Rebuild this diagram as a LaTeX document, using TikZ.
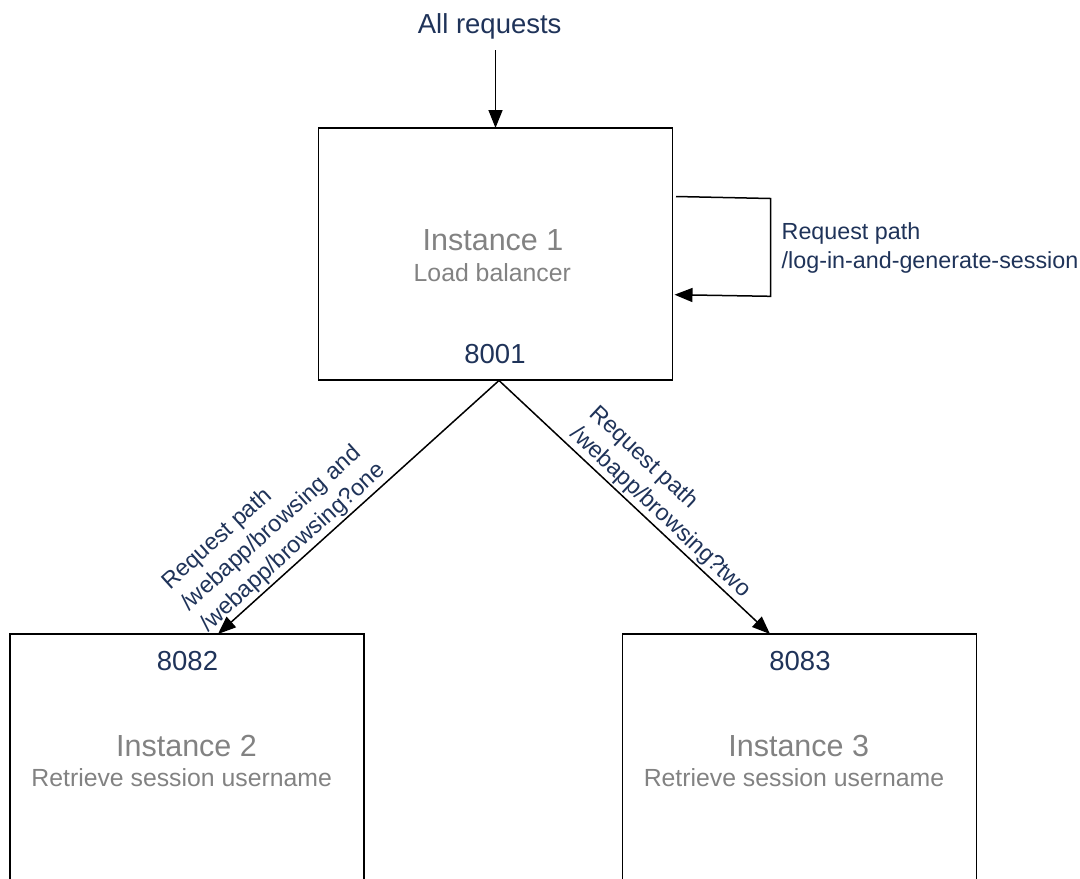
\documentclass[tikz,border=0pt]{standalone}
\usepackage{fontspec}
\setmainfont{Liberation Sans}
\usetikzlibrary{arrows.meta,calc}
\definecolor{navy}{RGB}{31,51,89}
\definecolor{greytxt}{RGB}{130,130,130}
\begin{document}
\begin{tikzpicture}[x=1pt,y=-1pt,
  box/.style={draw=black, line width=1.5pt, minimum width=354pt, minimum height=252pt, anchor=north west, inner sep=0pt, outer sep=0pt},
  conn/.style={line width=1.5pt, -{Triangle[length=18pt,width=14pt]}},
  loopline/.style={line width=1.5pt, -{Triangle[length=18pt,width=14pt]}},
  title/.style={text=greytxt, font=\fontsize{30.5}{34}\selectfont, anchor=base, inner sep=0pt},
  sub/.style={text=greytxt, font=\fontsize{24.8}{28}\selectfont, anchor=base, inner sep=0pt},
  port/.style={text=navy, font=\fontsize{27.5}{32}\selectfont, anchor=base, inner sep=0pt},
  lbl/.style={text=navy, font=\fontsize{23.3}{28.5}\selectfont, align=left, inner sep=2pt},
]
\useasboundingbox (0,0) rectangle (1080,879);
\clip (0,0) rectangle (1080,879);

% boxes
\node[box] (b1) at (318.5,128) {};
\node[box] (b2) at (10,634) {};
\node[box] (b3) at (622.5,634) {};

% box texts
\node[title] (t1) at (493,250) {Instance 1};
\node[sub] (s1) at (492.3,281.5) {Load balancer};
\node[port] (p1) at (495,363) {8001};

\node[port] (p2) at (187.5,670.7) {8082};
\node[title] (t2) at (186.5,756.7) {Instance 2};
\node[sub] (s2) at (181.7,786.7) {Retrieve session username};

\node[port] (p3) at (800,670.7) {8083};
\node[title] (t3) at (798.7,756.7) {Instance 3};
\node[sub] (s3) at (794,786.7) {Retrieve session username};

% incoming requests
\node[port] (req) at (489.7,33) {All requests};
\coordinate (reqa) at (495.5,50);
\draw[conn] (reqa) -- (b1.north);

% self loop
\coordinate (l1) at (676,196.5);
\coordinate (l2) at (770.5,198.5);
\coordinate (l3) at (770.5,296.3);
\coordinate (l4) at (674.5,294.7);
\draw[loopline] (l1) -- (l2) -- (l3) -- (l4);
\node[lbl, anchor=north west, inner sep=0pt] (ll) at (781.5,222.5) {Request path\\/log-in-and-generate-session};

% diagonal connectors
\coordinate (b1s) at (499,380.5);
\coordinate (in2) at (218,634);
\coordinate (in3) at (770,634);
\draw[conn] (b1s) -- (in2) node[lbl, sloped, above, pos=0.7] (dl) {Request path\\/webapp/browsing and\\/webapp/browsing?one};
\draw[conn] (b1s) -- (in3) node[lbl, sloped, above, pos=0.56] (dr) {Request path\\/webapp/browsing?two};
\end{tikzpicture}
\end{document}
